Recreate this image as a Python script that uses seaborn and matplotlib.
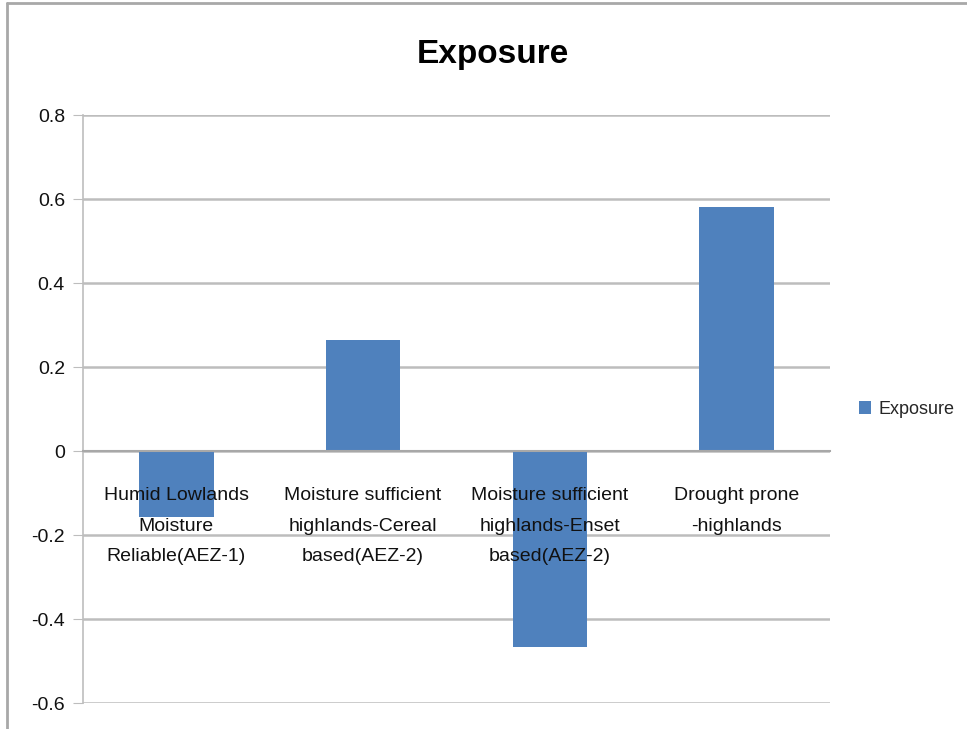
import numpy as np
import pandas as pd
import seaborn as sns
import matplotlib.pyplot as plt
from matplotlib.lines import Line2D

# Values
categories = ['Humid Lowlands\nMoisture\nReliable(AEZ-1)',
              'Moisture sufficient\nhighlands-Cereal\nbased(AEZ-2)',
              'Moisture sufficient\nhighlands-Enset\nbased(AEZ-2)',
              'Drought prone\n-highlands']
exposure = [-0.157, 0.264, -0.467, 0.581]
yticks = [-0.6, -0.4, -0.2, 0, 0.2, 0.4, 0.6, 0.8]
ytick_labels = ['-0.6', '-0.4', '-0.2', '0', '0.2', '0.4', '0.6', '0.8']

data = pd.DataFrame({'Zone': categories, 'Exposure': exposure})

sns.set_style("white")
plt.rcParams['font.family'] = ['Liberation Sans', 'DejaVu Sans']

fig = plt.figure(figsize=(9.67, 7.29), dpi=100)
ax = fig.add_axes([83 / 967, 1 - 703 / 729, (830 - 83) / 967, (703 - 115) / 729])

sns.barplot(x='Zone', y='Exposure', data=data, ax=ax, color='#4F81BD',
            width=0.4, label='Exposure', saturation=1, linewidth=0, zorder=3)

ax.set_xlim(-0.5, 3.5)
ax.set_ylim(-0.6, 0.8)
ax.set_yticks(yticks)
ax.set_yticklabels(ytick_labels, fontsize=14, color='#111111')
ax.yaxis.grid(True, color='#BDBDBD', linewidth=1.8)
ax.set_xlabel('')
ax.set_ylabel('')

# x axis sits on the zero line, like the Excel original
for s in ['top', 'right']:
    ax.spines[s].set_visible(False)
ax.spines['bottom'].set_position(('data', 0))
ax.spines['bottom'].set_color('#A8A8A8')
ax.spines['bottom'].set_linewidth(1.5)
ax.spines['bottom'].set_zorder(4)
ax.spines['left'].set_color('#BDBDBD')
ax.spines['left'].set_linewidth(1.2)

ax.set_xticks(range(len(categories)))
ax.set_xticklabels(categories, fontsize=14, color='#111111', va='top',
                   linespacing=2.05)
ax.tick_params(axis='x', which='major', length=0, pad=26)
ax.set_xticks(np.arange(-0.5, 3.6, 1.0), minor=True)
ax.tick_params(axis='x', which='minor', length=7, width=1.2, color='#A8A8A8',
               direction='out')
ax.tick_params(axis='y', length=7, color='#BDBDBD', direction='out', pad=6, left=True)

# category labels are written over the bars, gridlines stay behind them
ax.xaxis.set_zorder(5)
ax.yaxis.set_zorder(0.5)

fig.suptitle('Exposure', x=493 / 967, y=1 - 39 / 729, fontsize=24, fontweight='bold',
             va='top', color='#000000')

ax.legend(loc='center left', bbox_to_anchor=(855 / 967, 1 - 409 / 729),
          bbox_transform=fig.transFigure, frameon=False, fontsize=13,
          handlelength=0.7, handleheight=0.7, handletextpad=0.4,
          borderaxespad=0, borderpad=0.2)

# chart frame edge
fig.add_artist(Line2D([7 / 967, 7 / 967], [0, 1 - 3 / 729], color='#A8A8A8', lw=2))
fig.add_artist(Line2D([7 / 967, 1], [1 - 3 / 729, 1 - 3 / 729], color='#A8A8A8', lw=2))

fig.savefig('out.png', dpi=100)
